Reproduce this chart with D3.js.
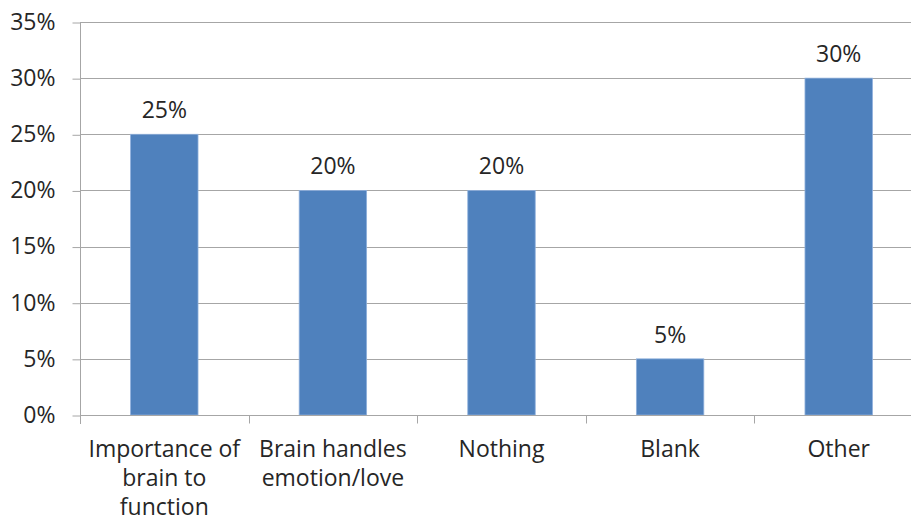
<!DOCTYPE html>
<html>
<head>
<meta charset="utf-8">
<script src="https://cdn.jsdelivr.net/npm/d3@7"></script>
<style>
  html, body { margin: 0; padding: 0; background: #fff; }
  svg { display: block; }
  text { font-family: "Open Sans", sans-serif; fill: #262626; }
</style>
</head>
<body>
<svg id="chart" width="911" height="518"></svg>
<script>
// Survey responses (share of answers)
const categories = [
  ["Importance of", "brain to", "function"],
  ["Brain handles", "emotion/love"],
  ["Nothing"],
  ["Blank"],
  ["Other"]
];
const values = [0.25, 0.20, 0.20, 0.05, 0.30];
const yTicks = [0, 0.05, 0.10, 0.15, 0.20, 0.25, 0.30, 0.35];

const svg = d3.select("#chart");
const plotLeft = 80, plotRight = 923, plotTop = 22, plotBottom = 415;
const fontSize = 23;

const keys = categories.map((c, i) => i);
const x = d3.scaleBand().domain(keys).range([plotLeft, plotRight]).paddingInner(0).paddingOuter(0);
const y = d3.scaleLinear().domain([0, 0.35]).range([plotBottom, plotTop]);
const fmt = d3.format(".0%");

// horizontal gridlines
svg.append("g")
  .selectAll("line")
  .data(yTicks.filter(d => d > 0))
  .join("line")
  .attr("x1", plotLeft).attr("x2", plotRight)
  .attr("y1", d => Math.round(y(d)) + 0.5).attr("y2", d => Math.round(y(d)) + 0.5)
  .attr("stroke", "#a6a6a6").attr("stroke-width", 1);

// bars
const barW = x.bandwidth() * 0.40;
svg.append("g")
  .selectAll("rect")
  .data(values)
  .join("rect")
  .attr("x", (d, i) => x(i) + (x.bandwidth() - barW) / 2)
  .attr("width", barW)
  .attr("y", d => y(d))
  .attr("height", d => y(0) - y(d))
  .attr("fill", "#4f81bd")
  .attr("stroke", "#8fb0dc").attr("stroke-width", 0.8);

// value labels
svg.append("g")
  .selectAll("text")
  .data(values)
  .join("text")
  .attr("x", (d, i) => x(i) + x.bandwidth() / 2)
  .attr("y", d => y(d) - 16)
  .attr("text-anchor", "middle")
  .attr("font-size", fontSize)
  .text(d => fmt(d));

// y axis
const yAxis = d3.axisLeft(y).tickValues(yTicks).tickFormat(fmt).tickSize(8).tickPadding(17);
const gy = svg.append("g").attr("transform", `translate(${plotLeft + 0.5},0)`).call(yAxis);
gy.select(".domain").remove();
gy.selectAll(".tick line").attr("stroke", "#a6a6a6").attr("transform", "translate(0,0.5)");
gy.selectAll(".tick text").attr("font-size", fontSize).attr("fill", "#262626")
  .attr("font-family", "'Open Sans', sans-serif");
gy.append("line").attr("x1", 0).attr("x2", 0).attr("y1", plotTop).attr("y2", plotBottom + 9)
  .attr("stroke", "#a6a6a6");

// x axis
const gx = svg.append("g").attr("transform", `translate(0,${plotBottom + 0.5})`);
gx.append("line").attr("x1", plotLeft).attr("x2", plotRight).attr("stroke", "#a6a6a6");
gx.selectAll("line.tk")
  .data(keys.slice(1))
  .join("line")
  .attr("class", "tk")
  .attr("x1", d => Math.round(x(d)) + 0.5).attr("x2", d => Math.round(x(d)) + 0.5)
  .attr("y1", 0).attr("y2", 8)
  .attr("stroke", "#a6a6a6");

const labels = gx.selectAll("text.cat")
  .data(categories)
  .join("text")
  .attr("class", "cat")
  .attr("text-anchor", "middle")
  .attr("font-size", fontSize)
  .attr("x", (d, i) => x(i) + x.bandwidth() / 2);
labels.selectAll("tspan")
  .data((d, i) => d.map(t => ({ t, i })))
  .join("tspan")
  .attr("x", d => x(d.i) + x.bandwidth() / 2)
  .attr("y", (d, j) => 41 + j * 29)
  .text(d => d.t);
</script>
</body>
</html>
